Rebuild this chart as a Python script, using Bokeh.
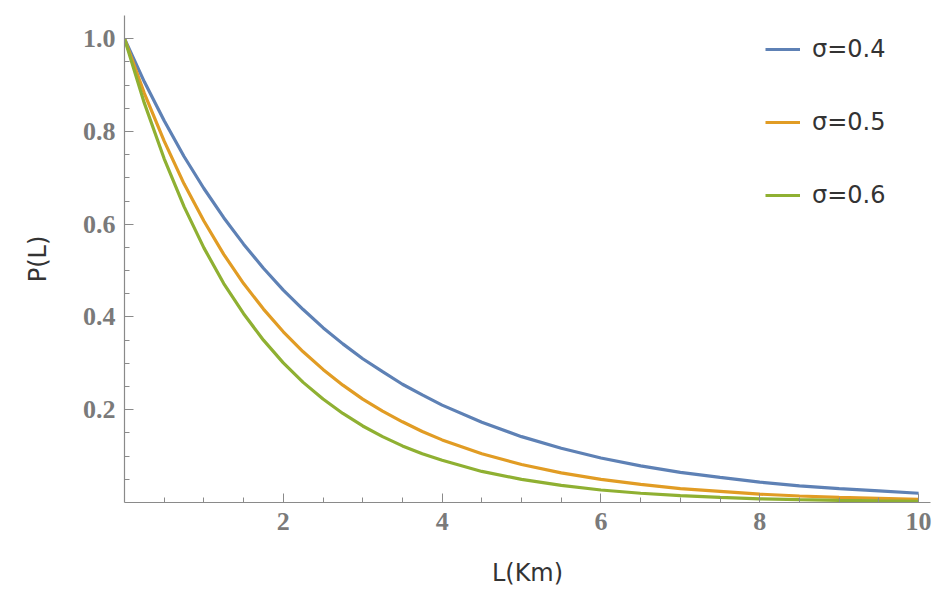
from bokeh.plotting import figure
from bokeh.models import Range1d, FixedTicker, PrintfTickFormatter, Legend, LegendItem
from bokeh.embed import file_html
from bokeh.resources import INLINE

# Distance L (km)
L = [0.0, 0.25, 0.5, 0.75, 1.0, 1.25, 1.5, 1.75, 2.0, 2.25, 2.5, 2.75, 3.0, 3.25, 3.5, 3.75, 4.0,
     4.5, 5.0, 5.5, 6.0, 6.5, 7.0, 7.5, 8.0, 8.5, 9.0, 9.5, 10.0]

# P(L) for each sigma
p_sigma04 = [1.000, 0.907, 0.823, 0.746, 0.677, 0.614, 0.557, 0.505, 0.458, 0.416, 0.377, 0.342, 0.310,
             0.282, 0.255, 0.232, 0.210, 0.173, 0.142, 0.117, 0.096, 0.079, 0.065, 0.054, 0.044,
             0.036, 0.030, 0.025, 0.020]
p_sigma05 = [1.000, 0.882, 0.779, 0.687, 0.607, 0.535, 0.472, 0.417, 0.368, 0.325, 0.287, 0.253, 0.223,
             0.197, 0.174, 0.153, 0.135, 0.105, 0.082, 0.064, 0.050, 0.039, 0.030, 0.024, 0.018,
             0.014, 0.011, 0.009, 0.007]
p_sigma06 = [1.000, 0.861, 0.741, 0.638, 0.549, 0.472, 0.407, 0.350, 0.301, 0.259, 0.223, 0.192, 0.165,
             0.142, 0.122, 0.105, 0.091, 0.067, 0.050, 0.037, 0.027, 0.020, 0.015, 0.011, 0.008,
             0.006, 0.0045, 0.0033, 0.0025]

series_names = ["σ=0.4", "σ=0.5", "σ=0.6"]
series_colors = ["#5E81B5", "#E19C24", "#8FB032"]

x_major = [2, 4, 6, 8, 10]
x_minor = [0.5, 1.0, 1.5, 2.5, 3.0, 3.5, 4.5, 5.0, 5.5, 6.5, 7.0, 7.5, 8.5, 9.0, 9.5]
y_major = [0.2, 0.4, 0.6, 0.8, 1.0]
y_minor = [0.05, 0.1, 0.15, 0.25, 0.3, 0.35, 0.45, 0.5, 0.55, 0.65, 0.7, 0.75, 0.85, 0.9, 0.95]

p = figure(width=936, height=599, output_backend="svg", toolbar_location=None,
           x_range=Range1d(0, 10.15), y_range=Range1d(0, 1.05),
           min_border_left=124, min_border_right=6, min_border_top=15, min_border_bottom=97)
p.outline_line_color = None
p.grid.visible = False
p.background_fill_color = "white"
p.border_fill_color = "white"

renderers = []
for ys, c in zip([p_sigma04, p_sigma05, p_sigma06], series_colors):
    r = p.line(L, ys, line_color=c, line_width=3.2)
    renderers.append(r)

for ax in (p.xaxis[0], p.yaxis[0]):
    ax.axis_line_color = "#8a8a8a"
    ax.axis_line_width = 1.2
    ax.major_tick_line_color = "#8a8a8a"
    ax.minor_tick_line_color = "#8a8a8a"
    ax.major_tick_in = 9
    ax.major_tick_out = 0
    ax.minor_tick_in = 5
    ax.minor_tick_out = 0
    ax.major_label_text_font = "Liberation Serif"
    ax.major_label_text_font_size = "26px"
    ax.major_label_text_font_style = "bold"
    ax.major_label_text_color = "#7a7a7a"
    ax.axis_label_text_font = "DejaVu Sans"
    ax.axis_label_text_font_style = "normal"
    ax.axis_label_text_font_size = "24px"
    ax.axis_label_text_color = "#333333"

p.xaxis[0].ticker = FixedTicker(ticks=x_major, minor_ticks=x_minor)
p.yaxis[0].ticker = FixedTicker(ticks=y_major, minor_ticks=y_minor)
p.xaxis[0].formatter = PrintfTickFormatter(format="%d")
p.yaxis[0].formatter = PrintfTickFormatter(format="%.1f")
p.xaxis[0].major_label_standoff = 10
p.yaxis[0].major_label_standoff = 9
p.xaxis[0].axis_label = "L(Km)"
p.yaxis[0].axis_label = "P(L)"
p.xaxis[0].axis_label_standoff = 26
p.yaxis[0].axis_label_standoff = 28

legend = Legend(items=[LegendItem(label=n, renderers=[r]) for n, r in zip(series_names, renderers)],
                location=(641, 292), orientation="vertical")
legend.background_fill_alpha = 0
legend.border_line_color = None
legend.padding = 0
legend.margin = 0
legend.spacing = 43
legend.glyph_width = 35
legend.glyph_height = 30
legend.label_height = 30
legend.label_standoff = 12
legend.label_text_font = "DejaVu Sans"
legend.label_text_font_size = "24px"
legend.label_text_color = "#333333"
p.add_layout(legend)

open("out.html", "w").write(file_html(p, INLINE))
